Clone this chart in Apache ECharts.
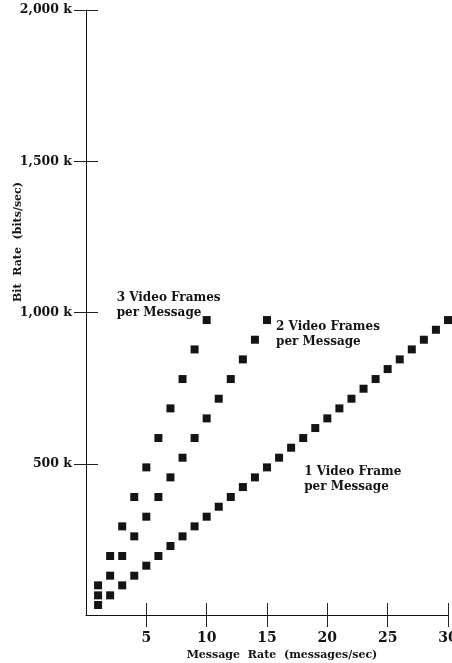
<!DOCTYPE html>
<html>
<head>
<meta charset="utf-8">
<script src="https://cdn.jsdelivr.net/npm/echarts@6/dist/echarts.min.js"></script>
<style>
  html, body { margin: 0; padding: 0; background: #fff; }
  #chart { width: 452px; height: 663px; }
</style>
</head>
<body>
<div id="chart"></div>
<script>
// Message rate (messages/sec) for each series
const rates1 = [1,2,3,4,5,6,7,8,9,10,11,12,13,14,15,16,17,18,19,20,21,22,23,24,25,26,27,28,29,30];
const rates2 = [1,2,3,4,5,6,7,8,9,10,11,12,13,14,15];
const rates3 = [1,2,3,4,5,6,7,8,9,10];

// Bit rate (kbits/sec)
const oneFrame = [33,65,98,130,163,195,228,260,293,325,358,390,423,455,488,520,553,585,618,650,683,715,748,780,813,845,878,910,943,975];
const twoFrames = [65,130,195,260,325,390,455,520,585,650,715,780,845,910,975];
const threeFrames = [98,195,293,390,488,585,683,780,878,975];

// Axis ticks
const xTicks = [5,10,15,20,25,30];
const yTicks = [500,1000,1500,2000];

// Series captions
const caption1 = '1 Video Frame\nper Message';
const caption2 = '2 Video Frames\nper Message';
const caption3 = '3 Video Frames\nper Message';

const FONT = 'DejaVu Serif';
const INK = '#141414';

const chart = echarts.init(document.getElementById('chart'), null, { renderer: 'canvas' });

const captionStyle = {
  show: true,
  fontFamily: FONT,
  fontSize: 12,
  fontWeight: 'bold',
  color: INK,
  lineHeight: 15,
  align: 'left',
  verticalAlign: 'top'
};

function pointsWithCaption(rates, vals, captionIndex, caption, pos) {
  return rates.map((r, i) => {
    const item = { value: [r, vals[i]] };
    if (i === captionIndex) {
      item.label = Object.assign({}, captionStyle, { formatter: caption, position: pos });
    }
    return item;
  });
}

const markerStyle = { color: INK, opacity: 1 };
const gridBox = { left: 86, right: 4, top: 10, bottom: 48, containLabel: false, outerBoundsMode: 'none' };
const tickLine = { color: '#222', width: 1 };

const option = {
  animation: false,
  backgroundColor: '#fff',
  // two identical grids: one carries the axes with outward ticks, the other the inward halves
  grid: [gridBox, Object.assign({}, gridBox)],
  xAxis: [
    {
      gridIndex: 0, type: 'value', min: 0, max: 30, position: 'bottom',
      name: 'Message  Rate  (messages/sec)', nameLocation: 'middle', nameGap: 29,
      nameTextStyle: { fontFamily: FONT, fontSize: 11, fontWeight: 'bold', color: INK, padding: [0, 0, 0, 30] },
      axisLine: { show: true, lineStyle: { color: '#111', width: 1 } },
      axisTick: { show: true, inside: false, length: 12, customValues: xTicks, lineStyle: tickLine },
      axisLabel: { show: true, customValues: xTicks, margin: 16, fontFamily: FONT, fontSize: 14, fontWeight: 'bold', color: INK },
      splitLine: { show: false }
    },
    {
      gridIndex: 1, type: 'value', min: 0, max: 30, position: 'bottom',
      axisLine: { show: false },
      axisTick: { show: true, inside: true, length: 12, customValues: xTicks, lineStyle: tickLine },
      axisLabel: { show: false },
      splitLine: { show: false }
    }
  ],
  yAxis: [
    {
      gridIndex: 0, type: 'value', min: 0, max: 2000, position: 'left',
      axisLine: { show: true, lineStyle: { color: '#111', width: 1 } },
      axisTick: { show: true, inside: false, length: 12, customValues: yTicks, lineStyle: tickLine },
      axisLabel: {
        show: true, customValues: yTicks, margin: 14,
        fontFamily: FONT, fontSize: 12.5, fontWeight: 'bold', color: INK,
        formatter: v => v.toLocaleString('en-US') + ' k'
      },
      splitLine: { show: false }
    },
    {
      gridIndex: 1, type: 'value', min: 0, max: 2000, position: 'left',
      axisLine: { show: false },
      axisTick: { show: true, inside: true, length: 12, customValues: yTicks, lineStyle: tickLine },
      axisLabel: { show: false },
      splitLine: { show: false }
    }
  ],
  graphic: [
    {
      type: 'text',
      left: 13, top: 182,
      rotation: Math.PI / 2,
      style: {
        text: 'Bit  Rate  (bits/sec)',
        font: 'bold 11px "DejaVu Serif"',
        fill: INK
      }
    }
  ],
  series: [
    {
      name: '1 Video Frame per Message',
      type: 'scatter', symbol: 'rect', symbolSize: 8,
      itemStyle: markerStyle,
      data: pointsWithCaption(rates1, oneFrame, 16, caption1, [17, 21])
    },
    {
      name: '2 Video Frames per Message',
      type: 'scatter', symbol: 'rect', symbolSize: 8,
      itemStyle: markerStyle,
      data: pointsWithCaption(rates2, twoFrames, rates2.length - 1, caption2, [13, 3])
    },
    {
      name: '3 Video Frames per Message',
      type: 'scatter', symbol: 'rect', symbolSize: 8,
      itemStyle: markerStyle,
      data: pointsWithCaption(rates3, threeFrames, rates3.length - 1, caption3, [-86, -26])
    }
  ]
};

chart.setOption(option);
</script>
</body>
</html>
